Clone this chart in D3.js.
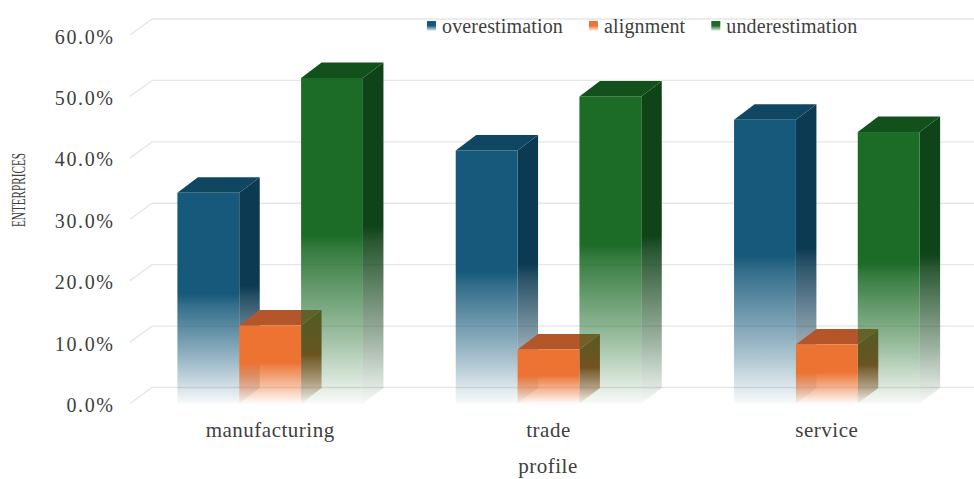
<!DOCTYPE html>
<html>
<head>
<meta charset="utf-8">
<script src="https://cdn.jsdelivr.net/npm/d3@7"></script>
<style>
  html, body { margin: 0; padding: 0; background: #ffffff; }
  svg { display: block; }
  text { font-family: "Liberation Serif", "Tinos", "Times New Roman", serif; fill: #404040; }
</style>
</head>
<body>
<svg id="chart" width="974" height="479"></svg>
<script>
// Share of enterprises by profile (percent)
const categories = ["manufacturing", "trade", "service"];
const seriesNames = ["overestimation", "alignment", "underestimation"];
const overestimation = [34.3, 41.2, 46.2];
const alignment = [12.7, 8.8, 9.6];
const underestimation = [53.0, 50.0, 44.2];
const yTicks = [0, 10, 20, 30, 40, 50, 60];

const seriesValues = [overestimation, alignment, underestimation];
const palette = {
  overestimation:  { front: "#16597a", top: "#0f4763", side: "#0c3a52" },
  alignment:       { front: "#ec7332", top: "#b4562a", side: "#8f4a1e" },
  underestimation: { front: "#1c6b27", top: "#13511c", side: "#0f4318" }
};
const FONT = '"Liberation Serif", "Tinos", "Times New Roman", serif';

const svg = d3.select("#chart");
const W = 974;

// front plane scales; the back wall is offset by the depth vector
const y = d3.scaleLinear().domain([0, 60]).range([403.5, 35]);
const x0 = d3.scaleBand().domain(categories).range([131, 966]);
const x1 = d3.scaleBand().domain(seriesNames).range([0, x0.bandwidth()]).paddingOuter(0.75);
const wallDx = 22, wallDy = 16;
const barDx = 20.5, barDy = 15.5;
const wallLeft = 130;

// gradients: solid at the top, fading out toward the floor
const defs = svg.append("defs");
function fadeGradient(id, color) {
  const g = defs.append("linearGradient").attr("id", id)
    .attr("x1", 0).attr("y1", 0).attr("x2", 0).attr("y2", 1);
  [[0, 1], [0.48, 1], [0.53, 0.88], [0.8, 0.42], [1, 0.03]].forEach(([o, a]) => {
    g.append("stop").attr("offset", o).attr("stop-color", color).attr("stop-opacity", a);
  });
}
seriesNames.forEach((s, i) => {
  fadeGradient("front" + i, palette[s].front);
  fadeGradient("side" + i, palette[s].side);
});

// gridlines on the back wall with their side-wall diagonals
const grid = svg.append("g").attr("fill", "none").attr("stroke", "#e6e6e6").attr("stroke-width", 1.4);
yTicks.forEach(t => {
  const yf = y(t), yb = y(t) - wallDy;
  grid.append("path").attr("d", `M${wallLeft},${yf}L${wallLeft + wallDx},${yb}L${W + 5},${yb}`);
});

// y tick labels
svg.append("g").selectAll("text").data(yTicks).join("text")
  .attr("x", 114.5).attr("y", d => y(d) + 8.5)
  .attr("text-anchor", "end").attr("font-size", 20).attr("letter-spacing", 1.6)
  .attr("font-family", FONT)
  .text(d => d3.format(".1f")(d) + "%");

// bars, drawn series by series so later series sit over earlier side faces
seriesNames.forEach((s, si) => {
  const g = svg.append("g");
  categories.forEach((c, ci) => {
    const v = seriesValues[si][ci];
    const xl = x0(c) + x1(s), w = x1.bandwidth();
    const yt = y(v), yb = y(0);
    // side face
    g.append("path")
      .attr("d", `M${xl + w},${yt}L${xl + w + barDx},${yt - barDy}L${xl + w + barDx},${yb - barDy}L${xl + w},${yb}Z`)
      .attr("fill", `url(#side${si})`);
    // top face
    g.append("path")
      .attr("d", `M${xl},${yt}L${xl + barDx},${yt - barDy}L${xl + w + barDx},${yt - barDy}L${xl + w},${yt}Z`)
      .attr("fill", palette[s].top);
    // front face
    g.append("rect")
      .attr("x", xl).attr("y", yt).attr("width", w).attr("height", yb - yt)
      .attr("fill", `url(#front${si})`);
  });
});

// category labels
svg.append("g").selectAll("text").data(categories).join("text")
  .attr("x", d => x0(d) + x0.bandwidth() / 2).attr("y", 437)
  .attr("text-anchor", "middle").attr("font-size", 21).attr("letter-spacing", 0.5)
  .attr("font-family", FONT)
  .text(d => d);

// axis titles
svg.append("text")
  .attr("x", (wallLeft + 966) / 2).attr("y", 473)
  .attr("text-anchor", "middle").attr("font-size", 21).attr("letter-spacing", 0.5)
  .attr("font-family", FONT)
  .text("profile");
svg.append("text")
  .attr("transform", "translate(25,190) rotate(-90)")
  .attr("text-anchor", "middle").attr("font-size", 19).attr("font-family", FONT)
  .attr("textLength", 74).attr("lengthAdjust", "spacingAndGlyphs")
  .text("ENTERPRICES");

// legend
const legend = svg.append("g");
let lx = 427;
seriesNames.forEach((s, i) => {
  legend.append("rect").attr("x", lx).attr("y", 21).attr("width", 9).attr("height", 10)
    .attr("fill", `url(#front${i})`);
  const t = legend.append("text").attr("x", lx + 15).attr("y", 33)
    .attr("font-size", 20).attr("letter-spacing", 0.15).attr("font-family", FONT).text(s);
  lx += 15 + t.node().getComputedTextLength() + 26;
});
</script>
</body>
</html>
